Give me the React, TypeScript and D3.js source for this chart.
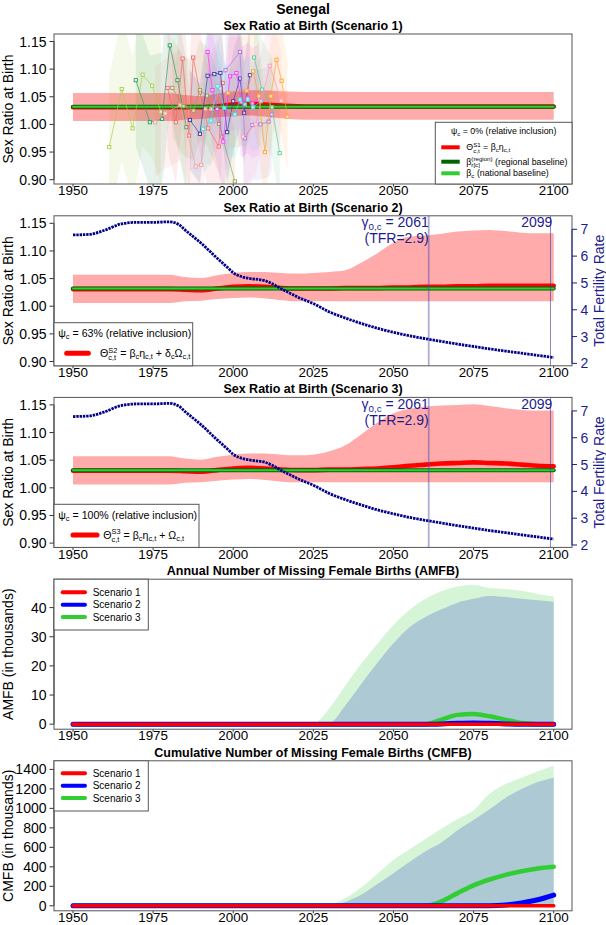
import React, { useEffect, useRef } from "react";
import * as d3 from "d3";

const FONT = "'Liberation Sans', Arial, Helvetica, sans-serif";
const NAVY = "#1c1c8f";

// ---- model years (5-yearly) ----
const years5 = [1950, 1955, 1960, 1965, 1970, 1975, 1980, 1985, 1990, 1995, 2000, 2005, 2010, 2015, 2020, 2025,
  2030, 2035, 2040, 2045, 2050, 2055, 2060, 2065, 2070, 2075, 2080, 2085, 2090, 2095, 2100];

// scenario 1 SRB
const s1Mid = [1.031, 1.031, 1.031, 1.031, 1.031, 1.031, 1.031, 1.031, 1.031, 1.033, 1.036, 1.037, 1.036, 1.034, 1.033, 1.0325,
  1.0325, 1.0325, 1.0325, 1.0325, 1.0325, 1.0325, 1.0325, 1.0325, 1.0325, 1.0325, 1.0325, 1.0325, 1.0325, 1.0325, 1.0325];
const s1Lo = [1.006, 1.006, 1.006, 1.006, 1.006, 1.006, 1.006, 1.009, 1.010, 1.013, 1.015, 1.016, 1.014, 1.011, 1.009, 1.0085,
  1.0085, 1.0085, 1.0085, 1.0085, 1.0085, 1.0085, 1.0085, 1.0085, 1.0085, 1.0085, 1.0085, 1.0085, 1.0085, 1.0085, 1.0085];
const s1Hi = [1.057, 1.057, 1.057, 1.057, 1.057, 1.057, 1.057, 1.053, 1.051, 1.056, 1.060, 1.062, 1.062, 1.060, 1.059, 1.0585,
  1.0585, 1.0585, 1.0585, 1.0585, 1.0585, 1.0585, 1.0585, 1.0585, 1.0585, 1.0585, 1.0585, 1.0585, 1.0585, 1.0585, 1.0585];

// scenario 2 SRB
const s2Mid = [1.031, 1.031, 1.031, 1.031, 1.031, 1.031, 1.031, 1.030, 1.029, 1.032, 1.035, 1.036, 1.035, 1.033, 1.032, 1.032,
  1.032, 1.033, 1.033, 1.033, 1.034, 1.034, 1.035, 1.035, 1.036, 1.036, 1.037, 1.037, 1.037, 1.037, 1.037];
const s2Lo = [1.006, 1.006, 1.006, 1.006, 1.006, 1.006, 1.006, 1.009, 1.010, 1.013, 1.015, 1.016, 1.014, 1.011, 1.009, 1.009,
  1.009, 1.009, 1.009, 1.009, 1.009, 1.009, 1.009, 1.009, 1.009, 1.009, 1.009, 1.009, 1.009, 1.009, 1.009];
const s2Hi = [1.057, 1.057, 1.057, 1.057, 1.057, 1.057, 1.057, 1.053, 1.051, 1.056, 1.060, 1.062, 1.062, 1.060, 1.059, 1.060,
  1.062, 1.065, 1.079, 1.096, 1.115, 1.126, 1.128, 1.131, 1.135, 1.137, 1.138, 1.136, 1.133, 1.132, 1.132];

// scenario 3 SRB
const s3Mid = [1.031, 1.031, 1.031, 1.031, 1.031, 1.031, 1.031, 1.030, 1.029, 1.032, 1.035, 1.036, 1.035, 1.033, 1.032, 1.032,
  1.033, 1.033, 1.034, 1.035, 1.037, 1.040, 1.042, 1.044, 1.045, 1.046, 1.045, 1.044, 1.042, 1.040, 1.039];
const s3Lo = [1.006, 1.006, 1.006, 1.006, 1.006, 1.006, 1.006, 1.009, 1.010, 1.013, 1.015, 1.016, 1.014, 1.011, 1.010, 1.010,
  1.010, 1.010, 1.010, 1.010, 1.010, 1.010, 1.010, 1.010, 1.010, 1.010, 1.010, 1.010, 1.010, 1.010, 1.010];
const s3Hi = [1.057, 1.057, 1.057, 1.057, 1.057, 1.057, 1.057, 1.053, 1.051, 1.056, 1.060, 1.062, 1.062, 1.060, 1.059, 1.060,
  1.066, 1.077, 1.097, 1.118, 1.135, 1.143, 1.147, 1.149, 1.150, 1.151, 1.148, 1.144, 1.141, 1.140, 1.140];

const nationalBaseline = 1.032;
const regionalBaseline = 1.032;

// TFR
const tfrYears = [1950, 1955, 1960, 1965, 1970, 1975, 1980, 1983, 1985, 1988, 1990, 1995, 1998, 2000, 2003, 2005, 2010, 2012,
  2015, 2018, 2020, 2025, 2030, 2035, 2040, 2045, 2050, 2055, 2060, 2065, 2070, 2075, 2080, 2085, 2090, 2095, 2100];
const tfrValues = [6.79, 6.81, 6.97, 7.20, 7.26, 7.26, 7.28, 7.18, 6.97, 6.68, 6.48, 5.92, 5.60, 5.38, 5.22, 5.17, 5.08, 4.98,
  4.78, 4.60, 4.48, 4.23, 3.92, 3.69, 3.49, 3.31, 3.16, 3.03, 2.92, 2.82, 2.72, 2.63, 2.54, 2.46, 2.38, 2.30, 2.22];
const gammaYear = 2061;
const gammaTfr = 2.9;
const endYear = 2099;

// missing female births
const mfbYears = [1950, 2020, 2025, 2030, 2035, 2040, 2045, 2050, 2055, 2060, 2065, 2070, 2075, 2080, 2085, 2090, 2095, 2100];
const amfbS3Up = [0, 0, 0.3, 5.5, 13.3, 20.8, 27.6, 34.0, 39.2, 43.0, 45.6, 47.2, 47.8, 46.7, 46.4, 45.8, 44.7, 43.8];
const amfbS2Up = [0, 0, 0, 0.3, 6.5, 13.9, 21.1, 27.8, 33.3, 36.8, 39.4, 41.7, 43.0, 44.0, 43.6, 43.0, 42.5, 42.0];
const amfbS1 = [0, 0, 0, 0, 0, 0, 0, 0, 0, 0, 0, 0, 0, 0, 0, 0, 0, 0];
const amfbS2 = [0, 0, 0, 0, 0, 0, 0, 0, 0, 0, 0.1, 0.3, 0.4, 0.3, 0.1, 0, 0, 0];
const amfbS3 = [0, 0, 0, 0, 0, 0, 0, 0, 0, 0, 1.6, 3.2, 3.5, 2.7, 1.5, 0.4, 0, 0];
const cmfbS3Up = [0, 0, 0, 10, 80, 190, 330, 470, 580, 685, 790, 890, 982, 1150, 1250, 1315, 1380, 1440];
const cmfbS2Up = [0, 0, 0, 0, 40, 115, 225, 335, 450, 560, 650, 775, 880, 990, 1110, 1200, 1270, 1315];
const cmfbS1 = [0, 0, 0, 0, 0, 0, 0, 0, 0, 0, 0, 0, 0, 0, 0, 0, 0, 0];
const cmfbS2 = [0, 0, 0, 0, 0, 0, 0, 0, 0, 0, 0, 0, 0, 0, 8, 30, 62, 110];
const cmfbS3 = [0, 0, 0, 0, 0, 0, 0, 0, 0, 0, 45, 130, 210, 270, 318, 355, 383, 400];

// observed SRB data series (scenario 1 panel)
const obsSeries: { color: string; hw: number; pts: [number, number][] }[] = [
  { color: "#a6cf4a", hw: 0.13, pts: [[1961.3, 0.959], [1965.2, 1.064], [1968.6, 0.993], [1971.7, 1.090], [1974.7, 1.070], [1977.4, 1.023]] },
  { color: "#2e9b5f", hw: 0.12, pts: [[1969.6, 1.080], [1974.0, 1.004], [1977.8, 1.010], [1980.2, 1.143], [1982.6, 1.080], [1985.4, 0.995]] },
  { color: "#f06a6a", hw: 0.11, pts: [[1979.5, 1.066], [1982.1, 1.004], [1984.2, 1.119], [1986.2, 0.980], [1987.5, 1.121], [1989.6, 1.058], [1992.2, 0.993], [1995.5, 0.960], [1996.7, 1.075]] },
  { color: "#f2a0a0", hw: 0.10, pts: [[1975.6, 1.004], [1978.8, 1.020], [1983.5, 1.035], [1988.3, 0.924], [1990.0, 0.927], [1991.3, 1.028], [1993.2, 1.028], [1996.0, 1.065]] },
  { color: "#9c9c4e", hw: 0.09, pts: [[1981.0, 1.066], [1984.5, 1.033], [1987.6, 1.025], [1989.6, 1.062], [1991.8, 1.052], [1995.6, 1.001], [1996.6, 0.978], [2000.5, 0.897]] },
  { color: "#3a3aa8", hw: 0.09, pts: [[1986.5, 1.008], [1989.6, 0.983], [1992.0, 1.088], [1994.1, 1.091], [1996.0, 1.093], [1998.1, 0.986], [2000.0, 1.042], [2002.1, 1.083], [2003.4, 1.021], [2005.2, 1.089]] },
  { color: "#ff33ff", hw: 0.10, pts: [[1992.0, 1.131], [1993.5, 1.062], [1995.0, 1.028], [1996.9, 0.969], [1999.0, 1.087], [2001.0, 1.093], [2002.5, 1.040], [2004.5, 1.048], [2006.0, 1.038], [2008.0, 1.045]] },
  { color: "#33e6e6", hw: 0.08, pts: [[1990.6, 0.992], [1993.0, 1.007], [1995.1, 1.069], [1997.2, 1.030], [2000.5, 1.018], [2002.1, 1.045], [2003.6, 1.036], [2004.5, 1.045], [2006.2, 1.031], [2008.6, 1.042]] },
  { color: "#a678e6", hw: 0.10, pts: [[1997.6, 1.098], [2002.1, 1.131], [2003.6, 0.975], [2006.0, 0.999], [2008.5, 1.000], [2011.0, 1.005], [2012.0, 1.018]] },
  { color: "#ffa22e", hw: 0.10, pts: [[1998.4, 1.057], [2004.2, 1.061], [2006.2, 1.096], [2008.0, 1.051], [2009.9, 0.950], [2011.7, 1.051], [2013.5, 1.117], [2015.1, 1.079], [2016.9, 1.014]] },
  { color: "#60c890", hw: 0.09, pts: [[2006.5, 1.121], [2009.0, 1.063], [2012.1, 1.031], [2014.5, 0.948]] },
  { color: "#ff9ab8", hw: 0.09, pts: [[2003.0, 0.978], [2007.0, 1.000], [2011.4, 1.106], [2015.0, 1.043]] },
];

const xTicks = [1950, 1975, 2000, 2025, 2050, 2075, 2100];
const srbTicks = [0.90, 0.95, 1.00, 1.05, 1.10, 1.15];
const tfrTicks = [2, 3, 4, 5, 6, 7];
const amfbTicks = [0, 10, 20, 30, 40];
const cmfbTicks = [0, 200, 400, 600, 800, 1000, 1200, 1400];
const scenarioNames = ["Scenario 1", "Scenario 2", "Scenario 3"];
const scenarioColors = ["#ff0000", "#0000ff", "#32cd32"];

type Part = { t: string; k?: "sub" | "sup"; s?: string };

const App: React.FC = () => {
  const svgRef = useRef<SVGSVGElement>(null);

  useEffect(() => {
    const svg = d3.select(svgRef.current);
    svg.selectAll("*").remove();
    svg.attr("font-family", FONT);

    const L = 54, R = 572, PH = 150;
    const tops = [34, 215.8, 397.4, 579.2, 760.8];
    const x = d3.scaleLinear().domain([1950, 2100]).range([73, 553.7]);
    const nb = (s: string) => s.replace(/ /g, "\u00a0");

    const txt = (g: any, px: number, py: number, s: string, size: number, anchor = "start", fill = "#000", weight = "normal") =>
      g.append("text").attr("x", px).attr("y", py).attr("font-size", size).attr("text-anchor", anchor)
        .attr("fill", fill).attr("font-weight", weight).text(s);

    const rich = (parent: any, px: number, py: number, parts: Part[], size: number, fill: string, anchor = "start") => {
      const g = parent.append("g").attr("fill", fill).attr("font-family", FONT);
      let cx = 0;
      const small = size * 0.7;
      parts.forEach((p) => {
        if (p.s !== undefined) {
          const a = g.append("text").attr("x", cx).attr("y", -size * 0.4).attr("font-size", small).text(nb(p.t));
          const b = g.append("text").attr("x", cx).attr("y", size * 0.3).attr("font-size", small).text(nb(p.s));
          cx += Math.max(a.node().getComputedTextLength(), b.node().getComputedTextLength());
        } else {
          const dy = p.k === "sub" ? size * 0.22 : p.k === "sup" ? -size * 0.4 : 0;
          const t = g.append("text").attr("x", cx).attr("y", dy).attr("font-size", p.k ? small : size).text(nb(p.t));
          cx += t.node().getComputedTextLength();
        }
      });
      const shift = anchor === "middle" ? -cx / 2 : anchor === "end" ? -cx : 0;
      g.attr("transform", `translate(${px + shift},${py})`);
      return g;
    };

    const frame = (i: number, title: string, y: any, ticks: number[], fmt: (v: number) => string, yTitle: string) => {
      const top = tops[i];
      const g = svg.append("g");
      txt(g, (L + R) / 2, top - 8.7 + 4.5, title, 12.5, "middle", "#000", "bold");
      ticks.forEach((t) => {
        g.append("line").attr("x1", 49.5).attr("x2", L).attr("y1", y(t)).attr("y2", y(t)).attr("stroke", "#333");
        txt(g, 46.5, y(t) + 5, fmt(t), 14, "end");
      });
      g.append("line").attr("x1", L).attr("x2", L).attr("y1", y(ticks[0])).attr("y2", y(ticks[ticks.length - 1])).attr("stroke", "#333");
      xTicks.forEach((t) => {
        g.append("line").attr("x1", x(t)).attr("x2", x(t)).attr("y1", top + PH).attr("y2", top + PH + 2.5).attr("stroke", "#333");
        txt(g, x(t), top + PH + 11.2, String(t), 13.4, "middle");
      });
      txt(g, 0, 0, yTitle, 14, "middle").attr("transform", `translate(13,${top + PH / 2}) rotate(-90)`);
      const clipId = `clip${i}`;
      svg.append("clipPath").attr("id", clipId).append("rect").attr("x", L).attr("y", top).attr("width", R - L).attr("height", PH);
      const plot = svg.append("g").attr("clip-path", `url(#${clipId})`);
      return { top, plot };
    };

    const drawBox = (top: number) =>
      svg.append("rect").attr("x", L).attr("y", top).attr("width", R - L).attr("height", PH)
        .attr("fill", "none").attr("stroke", "#555").attr("stroke-width", 1);

    const srbY = (top: number) => d3.scaleLinear().domain([0.9, 1.15]).range([top + 145.7, top + 7.5]);

    const modelLines = (plot: any, y: any, lo: number[], hi: number[], mid: number[]) => {
      const area = d3.area<number>().x((_, k) => x(years5[k])).y0((_, k) => y(lo[k])).y1((d) => y(d)).curve(d3.curveMonotoneX);
      plot.append("path").attr("d", area(hi)).attr("fill", "#ff0000").attr("fill-opacity", 0.33);
      const line = d3.line<number>().x((_, k) => x(years5[k])).y((d) => y(d)).curve(d3.curveMonotoneX);
      plot.append("path").attr("d", line(mid)).attr("fill", "none").attr("stroke", "#ff0000").attr("stroke-width", 4.6).attr("stroke-linecap", "round");
      plot.append("line").attr("x1", x(1950)).attr("x2", x(2100)).attr("y1", y(regionalBaseline)).attr("y2", y(regionalBaseline))
        .attr("stroke", "#006400").attr("stroke-width", 4).attr("stroke-linecap", "round");
      plot.append("line").attr("x1", x(1950)).attr("x2", x(2100)).attr("y1", y(nationalBaseline)).attr("y2", y(nationalBaseline))
        .attr("stroke", "#32cd32").attr("stroke-width", 2).attr("stroke-linecap", "round");
    };

    // Main title
    txt(svg, 303, 14.3, "Senegal", 14, "middle", "#000", "bold");

    // ---------- Panel 1 ----------
    {
      const y = srbY(tops[0]);
      const { top, plot } = frame(0, "Sex Ratio at Birth (Scenario 1)", y, srbTicks, d3.format(".2f"), "Sex Ratio at Birth");
      obsSeries.forEach((s) => {
        const band = d3.area<[number, number]>().x((d) => x(d[0])).y0((d) => y(d[1] - s.hw)).y1((d) => y(d[1] + s.hw));
        plot.append("path").attr("d", band(s.pts)).attr("fill", s.color).attr("fill-opacity", 0.12);
      });
      modelLines(plot, y, s1Lo, s1Hi, s1Mid);
      obsSeries.forEach((s) => {
        const ln = d3.line<[number, number]>().x((d) => x(d[0])).y((d) => y(d[1]));
        plot.append("path").attr("d", ln(s.pts)).attr("fill", "none").attr("stroke", s.color).attr("stroke-width", 0.8).attr("stroke-opacity", 0.85);
        s.pts.forEach((d) => {
          plot.append("rect").attr("x", x(d[0]) - 1.6).attr("y", y(d[1]) - 1.6).attr("width", 3.2).attr("height", 3.2)
            .attr("fill", "#fff").attr("fill-opacity", 0.7).attr("stroke", s.color).attr("stroke-width", 0.9);
        });
      });
      drawBox(top);
      // legend
      const lg = svg.append("g");
      lg.append("rect").attr("x", 435.3).attr("y", top + 88.3).attr("width", R - 435.3).attr("height", 150 - 88.3)
        .attr("fill", "#fff").attr("stroke", "#555");
      rich(lg, 503.7, top + 96.7 + 3, [{ t: "ψ" }, { t: "c", k: "sub" }, { t: " = 0% (relative inclusion)" }], 8.8, "#000", "middle");
      const rows: [string, number, Part[]][] = [
        ["#ff0000", 113.3, [{ t: "Θ" }, { t: "S1", s: "c,t" }, { t: " = β" }, { t: "c", k: "sub" }, { t: "η" }, { t: "c,t", k: "sub" }]],
        ["#006400", 127.7, [{ t: "β" }, { t: "(region)", s: "r[c]" }, { t: " (regional baseline)" }]],
        ["#32cd32", 139.3, [{ t: "β" }, { t: "c", k: "sub" }, { t: " (national baseline)" }]],
      ];
      rows.forEach(([c, dy, parts]) => {
        lg.append("line").attr("x1", 441.3).attr("x2", 459.7).attr("y1", top + dy).attr("y2", top + dy)
          .attr("stroke", c).attr("stroke-width", 4);
        rich(lg, 466.3, top + dy + 3, parts, 8.8, "#000");
      });
    }

    // ---------- Panels 2 & 3 ----------
    const scen = [
      { i: 1, title: "Sex Ratio at Birth (Scenario 2)", lo: s2Lo, hi: s2Hi, mid: s2Mid, psi: "63%", boxR: 192.7, lx: [66.7, 88.3], tx: 100,
        eq: [{ t: "Θ" }, { t: "S2", s: "c,t" }, { t: " = β" }, { t: "c", k: "sub" }, { t: "η" }, { t: "c,t", k: "sub" }, { t: " + δ" }, { t: "c", k: "sub" }, { t: "Ω" }, { t: "c,t", k: "sub" }] as Part[] },
      { i: 2, title: "Sex Ratio at Birth (Scenario 3)", lo: s3Lo, hi: s3Hi, mid: s3Mid, psi: "100%", boxR: 199, lx: [73, 97], tx: 103.3,
        eq: [{ t: "Θ" }, { t: "S3", s: "c,t" }, { t: " = β" }, { t: "c", k: "sub" }, { t: "η" }, { t: "c,t", k: "sub" }, { t: " + Ω" }, { t: "c,t", k: "sub" }] as Part[] },
    ];
    scen.forEach((sc) => {
      const y = srbY(tops[sc.i]);
      const { top, plot } = frame(sc.i, sc.title, y, srbTicks, d3.format(".2f"), "Sex Ratio at Birth");
      modelLines(plot, y, sc.lo, sc.hi, sc.mid);
      const yT = d3.scaleLinear().domain([2, 7]).range([top + 147.6, top + 13.5]);
      const tl = d3.line<number>().x((_, k) => x(tfrYears[k])).y((d) => yT(d)).curve(d3.curveMonotoneX);
      plot.append("path").attr("d", tl(tfrValues)).attr("fill", "none").attr("stroke", "#00008b")
        .attr("stroke-width", 2.8).attr("stroke-dasharray", "2.4,0.9");
      plot.append("line").attr("x1", x(gammaYear)).attr("x2", x(gammaYear)).attr("y1", top).attr("y2", top + PH)
        .attr("stroke", "#4a4aa8").attr("stroke-opacity", 0.45).attr("stroke-width", 1.8);
      plot.append("line").attr("x1", x(endYear)).attr("x2", x(endYear)).attr("y1", top).attr("y2", top + PH)
        .attr("stroke", "#3a3a9a").attr("stroke-opacity", 0.6).attr("stroke-width", 1);
      rich(svg, x(gammaYear), top + 6.6 + 4.5, [{ t: "γ" }, { t: "0,c", k: "sub" }, { t: ` = ${gammaYear}` }], 14, NAVY, "end");
      txt(svg, x(gammaYear), top + 22.6 + 5, `(TFR=${gammaTfr})`, 14, "end", NAVY);
      txt(svg, x(endYear) + 1.8, top + 6.6 + 5, String(endYear), 14, "end", NAVY);
      drawBox(top);
      // right axis
      const ra = svg.append("g");
      ra.append("line").attr("x1", R).attr("x2", R).attr("y1", yT(2)).attr("y2", yT(7)).attr("stroke", NAVY);
      tfrTicks.forEach((t) => {
        ra.append("line").attr("x1", R).attr("x2", R + 5).attr("y1", yT(t)).attr("y2", yT(t)).attr("stroke", NAVY);
        txt(ra, 584.3, yT(t) + 5, String(t), 14, "middle", NAVY);
      });
      txt(ra, 0, 0, "Total Fertility Rate", 14, "middle", NAVY).attr("transform", `translate(603.5,${top + PH / 2}) rotate(-90)`);
      // legend
      const lg = svg.append("g");
      lg.append("rect").attr("x", L).attr("y", top + 106.9).attr("width", sc.boxR - L).attr("height", PH - 106.9)
        .attr("fill", "#fff").attr("stroke", "#555");
      rich(lg, 58.3, top + 117.5 + 3.8, [{ t: "ψ" }, { t: "c", k: "sub" }, { t: ` = ${sc.psi} (relative inclusion)` }], 10.6, "#000");
      lg.append("line").attr("x1", sc.lx[0]).attr("x2", sc.lx[1]).attr("y1", top + 137.5).attr("y2", top + 137.5)
        .attr("stroke", "#ff0000").attr("stroke-width", 5).attr("stroke-linecap", "round");
      rich(lg, sc.tx, top + 137.5 + 3.8, sc.eq, 10.6, "#000");
    });

    // ---------- Panels 4 & 5 ----------
    const mfb = [
      { i: 3, title: "Annual Number of Missing Female Births (AMFB)", ticks: amfbTicks, dom: [0, 40], rng: [145, 28.4],
        up3: amfbS3Up, up2: amfbS2Up, lines: [amfbS3, amfbS2, amfbS1], yTitle: "AMFB (in thousands)", lgH: 50.8, rows: [13.1, 25.5, 37.8] },
      { i: 4, title: "Cumulative Number of Missing Female Births (CMFB)", ticks: cmfbTicks, dom: [0, 1400], rng: [145, 8.6],
        up3: cmfbS3Up, up2: cmfbS2Up, lines: [cmfbS3, cmfbS2, cmfbS1], yTitle: "CMFB (in thousands)", lgH: 50.2, rows: [12.5, 24.9, 37.2] },
    ];
    mfb.forEach((m) => {
      const top = tops[m.i];
      const y = d3.scaleLinear().domain(m.dom).range([top + m.rng[0], top + m.rng[1]]);
      const { plot } = frame(m.i, m.title, y, m.ticks, d3.format("d"), m.yTitle);
      const ar = d3.area<number>().x((_, k) => x(mfbYears[k])).y0(y(0)).y1((d) => y(d)).curve(d3.curveMonotoneX);
      plot.append("path").attr("d", ar(m.up3)).attr("fill", "#d6f5d6");
      plot.append("path").attr("d", ar(m.up2)).attr("fill", "#adc9d4");
      const ln = d3.line<number>().x((_, k) => x(mfbYears[k])).y((d) => y(d)).curve(d3.curveMonotoneX);
      const widths = [4.5, 5, 3.6];
      const cols = [scenarioColors[2], scenarioColors[1], scenarioColors[0]];
      m.lines.forEach((vals, j) => {
        plot.append("path").attr("d", ln(vals)).attr("fill", "none").attr("stroke", cols[j])
          .attr("stroke-width", widths[j]).attr("stroke-linecap", "round");
      });
      drawBox(top);
      const lg = svg.append("g");
      lg.append("rect").attr("x", L).attr("y", top).attr("width", 148.3 - L).attr("height", m.lgH)
        .attr("fill", "#fff").attr("stroke", "#555");
      scenarioNames.forEach((nm, j) => {
        lg.append("line").attr("x1", 62.7).attr("x2", 85).attr("y1", top + m.rows[j]).attr("y2", top + m.rows[j])
          .attr("stroke", scenarioColors[j]).attr("stroke-width", 4).attr("stroke-linecap", "round");
        txt(lg, 92.7, top + m.rows[j] + 3.6, nm, 10, "start");
      });
    });
  }, []);

  return (
    <div style={{ position: "absolute", left: 0, top: 0 }}>
      <svg ref={svgRef} width={606} height={925} style={{ display: "block", background: "#fff" }} />
    </div>
  );
};

export default App;
